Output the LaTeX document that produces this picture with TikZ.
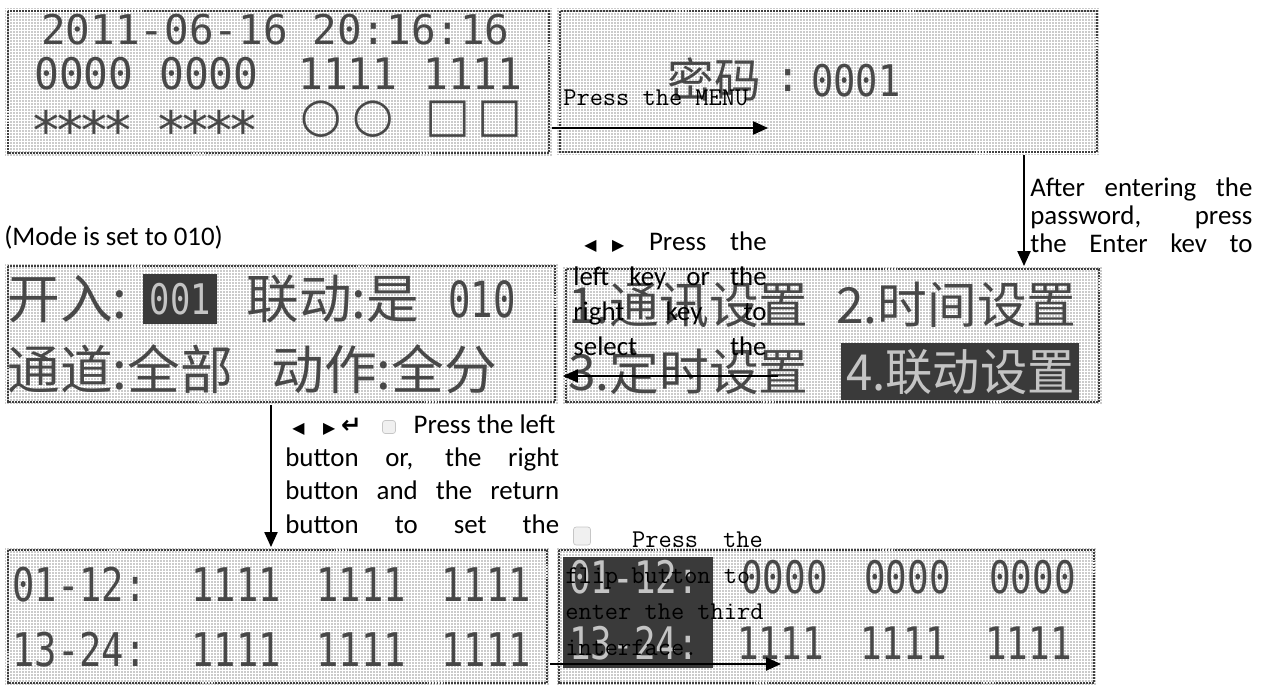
\documentclass[tikz,border=0pt]{standalone}
\usepackage{fontspec}
\usepackage{graphicx}
\setmainfont{Carlito}
\newfontfamily\cjk{Noto Sans CJK SC}
\newfontfamily\lcdmono{DejaVu Sans Mono}
\newfontfamily\symf{DejaVu Sans}
\usetikzlibrary{arrows.meta,patterns,fit,calc}

\pgfdeclarepatternformonly{lcdgrid}{\pgfqpoint{0pt}{0pt}}{\pgfqpoint{1.7pt}{1.7pt}}{\pgfqpoint{1.7pt}{1.7pt}}{%
  \pgfsetlinewidth{0.35pt}%
  \pgfpathmoveto{\pgfqpoint{0pt}{0.85pt}}\pgfpathlineto{\pgfqpoint{1.7pt}{0.85pt}}%
  \pgfpathmoveto{\pgfqpoint{0.85pt}{0pt}}\pgfpathlineto{\pgfqpoint{0.85pt}{1.7pt}}%
  \pgfusepath{stroke}}

\definecolor{lcdbg}{HTML}{CBCBCB}
\definecolor{lcdink}{HTML}{484848}
\definecolor{hiink}{HTML}{C4C4C4}
\definecolor{hibg}{HTML}{3A3A3A}

\newcommand\nx[2]{\scalebox{#1}[1]{#2}}
\newcommand\lcdstar{\makebox[13.6pt]{*}}
\newcommand\tril{{\symf\fontsize{9pt}{9pt}\selectfont ◀}}
\newcommand\trir{{\symf\fontsize{9pt}{9pt}\selectfont ▶}}
\newcommand\retk{{\symf\bfseries\fontsize{14pt}{14pt}\selectfont ↵}}

\tikzset{
  panel/.style={inner sep=0, outer sep=0, preaction={fill=lcdbg}, pattern=lcdgrid, pattern color=white},
  lcdborder/.style={draw=black!75, line width=1.1pt, dash pattern=on 1.1pt off 0.6pt},
  lcd/.style={inner sep=0, text=lcdink, anchor=west},
  cjkA/.style={lcd, font=\cjk\fontsize{30pt}{30pt}\selectfont},
  cjkB/.style={lcd, font=\cjk\fontsize{28.3pt}{28pt}\selectfont},
  cjkC/.style={lcd, font=\cjk\fontsize{26.6pt}{26pt}\selectfont},
  dig/.style={lcd, font=\lcdmono\fontsize{#1}{#1}\selectfont},
  hibox/.style={fill=hibg, inner sep=0, anchor=north west, text=hiink},
  ann/.style={inner sep=0, anchor=base west, align=left},
  mono/.style={inner sep=0, anchor=base west, align=left, font=\ttfamily\fontsize{14.6pt}{20.4pt}\selectfont},
  keyicon/.style={draw=gray!45, fill=gray!12, rounded corners=1.5pt, inner sep=0},
  arr/.style={draw=black, line width=0.9pt, -{Triangle[length=8.5pt,width=7.5pt]}}
}

\begin{document}
\begin{tikzpicture}[x=0.02cm,y=-0.02cm]
\useasboundingbox (0,0) rectangle (1266,689);

% ---------- panels ----------
\coordinate (p1a) at (5,8);     \coordinate (p1b) at (552,156);
\coordinate (p2a) at (557,8);   \coordinate (p2b) at (1100,155);
\coordinate (p3a) at (5,263);   \coordinate (p3b) at (558,405);
\coordinate (p4a) at (563,266); \coordinate (p4b) at (1102,405);
\coordinate (p5a) at (5,547);   \coordinate (p5b) at (550,686);
\coordinate (p6a) at (556,547); \coordinate (p6b) at (1097,686);
\node[panel, fit=(p1a)(p1b)] (p1) {};
\node[panel, fit=(p2a)(p2b)] (p2) {};
\node[panel, fit=(p3a)(p3b)] (p3) {};
\node[panel, fit=(p4a)(p4b)] (p4) {};
\node[panel, fit=(p5a)(p5b)] (p5) {};
\node[panel, fit=(p6a)(p6b)] (p6) {};
\foreach \p in {p1,p2,p3,p4,p5,p6}
  \draw[lcdborder] ([shift={(3,3)}]\p.north west) rectangle ([shift={(-3,-3)}]\p.south east);

% ---------- panel 1 ----------
\node[dig=23.3pt] (d1) at (41,30) {2011-06-16 20:16:16};
\node[dig=24.7pt] (d2a) at (34,74) {\nx{0.95}{0000}};
\node[dig=24.7pt] (d2b) at (159,74) {\nx{0.95}{0000}};
\node[dig=24.7pt] (d2c) at (298,74) {\nx{0.95}{1111}};
\node[dig=24.7pt] (d2d) at (423,74) {\nx{0.95}{1111}};
\node[lcd, anchor=base west, font=\lcdmono\fontsize{30pt}{30pt}\selectfont] (s1) at (34,150) {\lcdstar\lcdstar\lcdstar\lcdstar};
\node[lcd, anchor=base west, font=\lcdmono\fontsize{30pt}{30pt}\selectfont] (s2) at (159,150) {\lcdstar\lcdstar\lcdstar\lcdstar};
\node[lcd, font=\symf\fontsize{27pt}{27pt}\selectfont] (c1) at (300,119) {○};
\node[lcd, font=\symf\fontsize{27pt}{27pt}\selectfont] (c2) at (352,119) {○};
\node[lcd, font=\symf\fontsize{27pt}{27pt}\selectfont] (q1) at (425,119) {□};
\node[lcd, font=\symf\fontsize{27pt}{27pt}\selectfont] (q2) at (477,119) {□};

% ---------- panel 2 ----------
\node[cjkC] (m1) at (667,79) {密码};
\node[dig=24pt] (m2) at (775,81) {:};
\node[dig=24.8pt] (m3) at (811,81) {\nx{0.85}{0001}};

% ---------- panel 3 ----------
\node[cjkA] (t1) at (7,299) {开入:};
\node[hibox, minimum width=1.48cm, minimum height=1.0cm, font=\lcdmono\fontsize{24pt}{24pt}\selectfont] (hl1) at (143,274) {\nx{0.8}{001}};
\node[cjkA] (t2) at (246,299) {联动:是};
\node[dig=28.3pt] (t3) at (448,299) {\nx{0.75}{010}};
\node[cjkA] (t4) at (7,369) {通道:全部};
\node[cjkA] (t5) at (271,369) {动作:全分};

% ---------- panel 4 ----------
\node[cjkB] (u1) at (568,305) {1.通讯设置};
\node[cjkB] (u2) at (836,305) {2.时间设置};
\node[cjkB] (u3) at (568,372) {3.定时设置};
\node[hibox, minimum width=4.76cm, minimum height=1.14cm, font=\cjk\fontsize{28.3pt}{28pt}\selectfont] (hl2) at (841,343) {\nx{0.95}{4.联动设置}};

% ---------- panel 5 ----------
\node[dig=26.4pt] (v1) at (12,585) {\nx{0.8}{01-12:}};
\node[dig=26.4pt] (v2) at (191,585) {\nx{0.8}{1111}};
\node[dig=26.4pt] (v3) at (316,585) {\nx{0.8}{1111}};
\node[dig=26.4pt] (v4) at (441,585) {\nx{0.8}{1111}};
\node[dig=26.4pt] (v5) at (12,650) {\nx{0.8}{13-24:}};
\node[dig=26.4pt] (v6) at (191,650) {\nx{0.8}{1111}};
\node[dig=26.4pt] (v7) at (316,650) {\nx{0.8}{1111}};
\node[dig=26.4pt] (v8) at (441,650) {\nx{0.8}{1111}};

% ---------- panel 6 ----------
\node[hibox, minimum width=3.0cm, minimum height=2.22cm] (hl3) at (563,557) {};
\node[dig=25.5pt, text=hiink] (w1) at (569,577) {\nx{0.8}{01-12:}};
\node[dig=25.5pt, text=hiink] (w2) at (569,643) {\nx{0.8}{13-24:}};
\node[dig=25.5pt] (w3) at (741,577) {\nx{0.8}{0000}};
\node[dig=25.5pt] (w4) at (864,577) {\nx{0.8}{0000}};
\node[dig=25.5pt] (w5) at (989,577) {\nx{0.8}{0000}};
\node[dig=25.5pt] (w6) at (737,643) {\nx{0.8}{1111}};
\node[dig=25.5pt] (w7) at (860,643) {\nx{0.8}{1111}};
\node[dig=25.5pt] (w8) at (985,643) {\nx{0.8}{1111}};

% ---------- annotations (multi-line nodes anchored at the last baseline) ----------
\node[mono] (tMenu) at (563,106) {Press the MENU};

\node[ann, font=\fontsize{15.3pt}{15.9pt}\selectfont] (tA) at (1030,252)
  {\makebox[126.4pt][s]{After entering the}\\
   \makebox[126.4pt][s]{password, press}\\
   \makebox[126.4pt][s]{the Enter kev to}};

\node[ann, font=\fontsize{15.3pt}{15.9pt}\selectfont] (tMode) at (4,245) {(Mode is set to 010)};

\node[ann, font=\fontsize{15.3pt}{19.85pt}\selectfont] (tC) at (573,355)
  {\makebox[110pt][l]{\hspace*{6.2pt}\rlap{\tril}\hspace*{15.9pt}\rlap{\trir}\hspace*{21pt}Press\hfill the}\\
   \makebox[110pt][s]{left key or the}\\
   \makebox[110pt][s]{right key to}\\
   \makebox[110pt][s]{select the}};

\node[ann, font=\fontsize{15.3pt}{18.9pt}\selectfont] (tD) at (285,533)
  {\makebox[155.9pt][l]{\hspace*{4pt}\rlap{\tril}\hspace*{17.5pt}\rlap{\trir}\hspace*{10.2pt}\rlap{\retk}\hspace*{41.3pt}Press the left}\\
   \makebox[155.9pt][s]{button or, the right}\\
   \makebox[155.9pt][s]{button and the return}\\
   \makebox[155.9pt][s]{button to set the}};
\node[keyicon, minimum width=0.26cm, minimum height=0.26cm] (k1) at (389,427) {};

\node[mono] (tE) at (565,655)
  {\hspace*{38pt}Press\hspace*{14.2pt}the\\
   flip button to\\
   enter the third\\
   interface.};
\node[keyicon, minimum width=0.34cm, minimum height=0.36cm] (k2) at (582,536) {};

% ---------- connectors ----------
\coordinate (a1e) at (768,128);
\draw[arr] (p1.east |- a1e) -- (a1e);
\coordinate (a2x) at (1024,0);
\draw[arr] (a2x |- p2.south) -- (a2x |- p4.north);
\coordinate (a3s) at (778,376);
\draw[arr] (a3s) -- (p4.west |- a3s);
\coordinate (a4x) at (271,0);
\draw[arr] (a4x |- p3.south) -- (a4x |- p5.north);
\coordinate (a5e) at (781,664);
\draw[arr] (p5.east |- a5e) -- (a5e);
\end{tikzpicture}
\end{document}
